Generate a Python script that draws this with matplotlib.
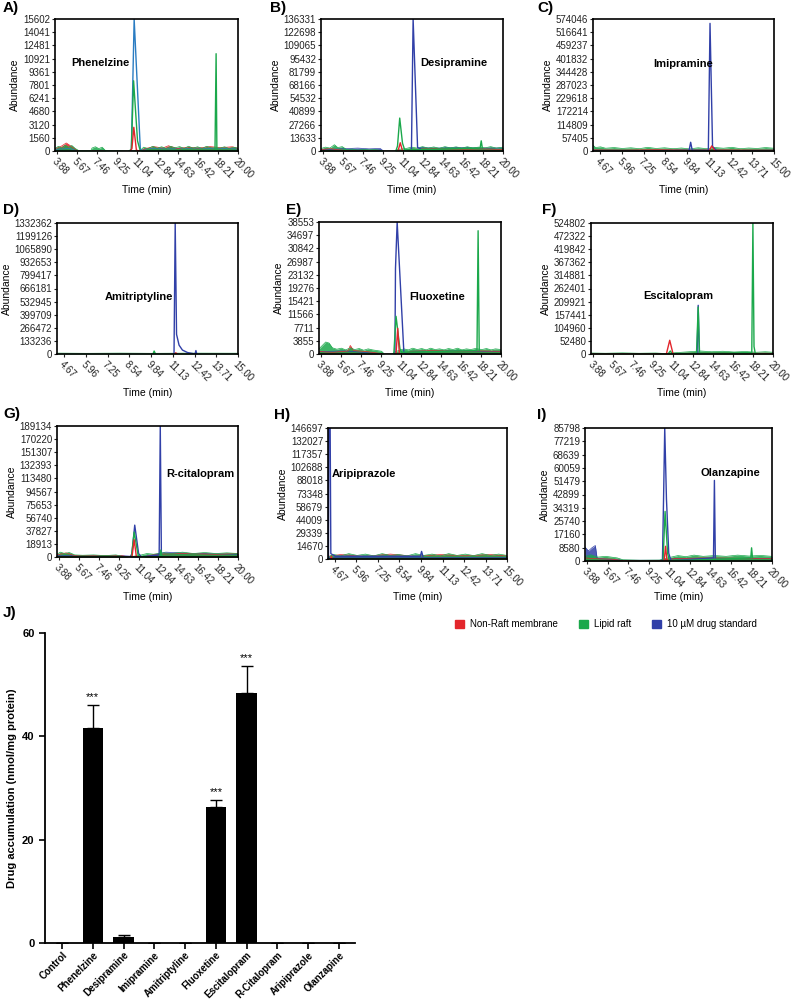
import numpy as np
import matplotlib
matplotlib.use("Agg")
import matplotlib.pyplot as plt
from matplotlib.patches import Patch

plt.rcParams['font.family'] = ['Liberation Sans', 'DejaVu Sans']

RED = '#e3262c'
GREEN = '#1ba84b'
BLUE = '#3140a8'
BLUE_A = '#2a7cc2'

# ---------------- chromatogram data (time [min], abundance) ----------------
TICKS_20 = ['3.88', '5.67', '7.46', '9.25', '11.04', '12.84', '14.63', '16.42', '18.21', '20.00']
TICKS_15 = ['4.67', '5.96', '7.25', '8.54', '9.84', '11.13', '12.42', '13.71', '15.00']

A_YT = [0, 1560, 3120, 4680, 6241, 7801, 9361, 10921, 12481, 14041, 15602]
B_YT = [0, 13633, 27266, 40899, 54532, 68166, 81799, 95432, 109065, 122698, 136331]
C_YT = [0, 57405, 114809, 172214, 229618, 287023, 344428, 401832, 459237, 516641, 574046]
D_YT = [0, 133236, 266472, 399709, 532945, 666181, 799417, 932653, 1065890, 1199126, 1332362]
E_YT = [0, 3855, 7711, 11566, 15421, 19276, 23132, 26987, 30842, 34697, 38553]
F_YT = [0, 52480, 104960, 157441, 209921, 262401, 314881, 367362, 419842, 472322, 524802]
G_YT = [0, 18913, 37827, 56740, 75653, 94567, 113480, 132393, 151307, 170220, 189134]
H_YT = [0, 14670, 29339, 44009, 58679, 73348, 88018, 102688, 117357, 132027, 146697]
I_YT = [0, 8580, 17160, 25740, 34319, 42899, 51479, 60059, 68639, 77219, 85798]

# noisy baselines (envelopes)
A_BAND_G = [(3.7, 300), (4.0, 550), (4.3, 350), (4.6, 700), (4.9, 450), (5.2, 650), (5.5, 300), (5.8, 60),
            (6.9, 60), (7.0, 350), (7.3, 500), (7.6, 280), (7.9, 450), (8.2, 40), (10.3, 0), (11.3, 80),
            (11.6, 450), (12.0, 280), (12.4, 550), (12.8, 330), (13.2, 500), (13.6, 300), (14.0, 550),
            (14.4, 380), (14.8, 520), (15.2, 300), (15.6, 560), (16.0, 340), (16.4, 500), (16.8, 300),
            (17.2, 550), (17.6, 380), (18.4, 350), (18.8, 500), (19.2, 300), (19.6, 450), (20.0, 350)]
A_BAND_R = [(3.7, 250), (4.3, 600), (4.7, 950), (5.1, 600), (5.5, 200), (5.8, 0), (11.3, 0), (11.8, 300),
            (12.5, 520), (13.3, 350), (13.8, 620), (14.6, 300), (15.5, 450), (16.5, 350), (17.5, 520),
            (18.5, 400), (19.5, 500), (20.0, 300)]
A_BAND_B = [(3.7, 200), (5.0, 300), (5.8, 0), (11.3, 0), (12.0, 300), (14.0, 250), (16.0, 350),
            (18.0, 300), (20.0, 250)]
A_BLUE = [(10.3, 0), (10.5, 0), (10.75, 15602), (11.3, 200), (11.6, 0)]
A_GREEN = [(10.3, 0), (10.5, 200), (10.7, 8300), (11.05, 1200), (11.3, 0), (17.95, 0), (18.05, 11500), (18.12, 0)]
A_RED = [(10.4, 0), (10.55, 300), (10.72, 2800), (10.95, 100), (11.2, 0)]

B_BAND_G = [(3.7, 2500), (4.1, 4000), (4.5, 3000), (4.9, 6500), (5.2, 3500), (5.6, 4500), (6.0, 1500),
            (6.5, 2000), (7.0, 1000), (7.5, 1800), (8.0, 1200), (8.5, 1500), (9.0, 800), (9.3, 0), (10.3, 0),
            (10.5, 1500), (11.3, 2500), (11.8, 4000), (12.3, 3000), (12.8, 4500), (13.3, 3000), (13.8, 4200),
            (14.3, 2800), (14.8, 4500), (15.3, 3200), (15.8, 4300), (16.3, 2900), (16.8, 4400), (17.3, 3100),
            (17.8, 4000), (18.4, 3300), (18.9, 4500), (19.4, 3000), (20.0, 4000)]
B_BAND_R = [(3.7, 1500), (4.5, 2500), (5.3, 1200), (6.0, 500), (9.3, 0), (11.3, 0), (12.0, 1800),
            (14.0, 2500), (16.0, 1500), (18.0, 2200), (20.0, 1500)]
B_BAND_B = [(3.7, 1200), (6.0, 2500), (7.0, 3000), (8.0, 2200), (9.0, 2600), (9.3, 0), (12.4, 0),
            (12.6, 3500), (14.0, 3000), (16.0, 3800), (18.0, 3000), (20.0, 3200)]
B_BLUE = [(11.7, 0), (11.8, 0), (11.95, 136331), (12.35, 3500), (12.6, 2500)]
B_GREEN = [(10.4, 0), (10.55, 5000), (10.75, 34000), (11.0, 8000), (11.2, 1000),
           (17.95, 3000), (18.05, 10500), (18.15, 3000)]
B_RED = [(10.6, 0), (10.8, 8500), (11.0, 0)]

C_BAND_G = [(4.25, 25000), (4.4, 15000), (4.7, 18000), (5.0, 12000), (5.5, 15000), (6.0, 11000), (6.5, 14000),
            (7.0, 10000), (7.5, 16000), (8.0, 11000), (8.5, 14000), (9.0, 10000), (9.5, 13000), (10.0, 9000),
            (10.5, 14000), (11.0, 10000), (11.5, 15000), (12.0, 12000), (12.5, 16000), (13.0, 10000),
            (13.5, 13000), (14.0, 11000), (14.5, 15000), (15.0, 12000)]
C_BAND_R = [(4.25, 5000), (6.0, 4000), (8.0, 6000), (10.0, 4000), (12.0, 5000), (15.0, 4000)]
C_BAND_B = [(4.25, 4000), (7.0, 3000), (10.0, 5000), (13.0, 3000), (15.0, 4000)]
C_BLUE = [(9.95, 0), (10.05, 38000), (10.15, 0), (11.1, 0), (11.2, 555000), (11.35, 20000), (11.6, 0)]
C_GREEN = [(11.15, 0), (11.3, 6000), (11.5, 0)]
C_RED = [(11.15, 0), (11.3, 22000), (11.5, 0)]

D_BAND_G = [(4.25, 9000), (6.0, 7000), (8.0, 9000), (10.0, 7000), (12.0, 9000), (15.0, 8000)]
D_BAND_R = [(4.25, 3000), (15.0, 3000)]
D_BAND_B = [(4.25, 2000), (15.0, 2000)]
D_BLUE = [(11.2, 0), (11.27, 1332362), (11.35, 200000), (11.5, 90000), (11.7, 40000), (12.0, 15000),
          (12.3, 5000), (12.45, 0), (12.5, 35000), (12.55, 0)]
D_GREEN = [(9.95, 0), (10.02, 30000), (10.1, 0)]
D_RED = [(11.25, 0), (11.3, 12000), (11.4, 0)]

E_BAND_G = [(3.7, 1500), (4.0, 2500), (4.3, 3500), (4.6, 3200), (4.9, 1800), (5.3, 1400), (5.7, 1700),
            (6.1, 1200), (6.5, 1800), (6.9, 1300), (7.3, 1600), (7.7, 1100), (8.1, 1500), (8.5, 1200),
            (8.9, 1000), (9.3, 800), (9.55, 0), (10.3, 0), (10.45, 600), (11.3, 1500), (11.7, 1200),
            (12.1, 1700), (12.5, 1300), (12.9, 1600), (13.3, 1200), (13.7, 1700), (14.1, 1300), (14.5, 1500),
            (14.9, 1200), (15.3, 1600), (15.7, 1300), (16.1, 1700), (16.5, 1200), (16.9, 1500), (17.3, 1300),
            (17.7, 1600), (18.3, 1300), (18.7, 1600), (19.1, 1200), (19.5, 1500), (20.0, 1300)]
E_BAND_R = [(3.7, 800), (4.2, 600), (5.0, 500), (6.3, 900), (6.5, 2500), (6.8, 1000), (8.0, 700),
            (9.5, 0), (11.3, 0), (12.0, 800), (14.0, 1000), (16.0, 800), (18.0, 900), (20.0, 800)]
E_BAND_B = [(3.7, 700), (6.0, 900), (9.5, 0), (11.3, 0), (12.0, 800), (16.0, 900), (20.0, 700)]
E_BLUE = [(10.35, 0), (10.5, 0), (10.55, 25000), (10.7, 38553), (11.3, 500), (11.5, 0)]
E_GREEN = [(10.4, 0), (10.6, 11000), (10.95, 1500), (11.1, 500), (17.85, 1000), (17.95, 36000), (18.05, 1000)]
E_RED = [(10.6, 0), (10.75, 7500), (10.9, 0)]

F_BAND_G = [(3.7, 4000), (5.0, 3000), (6.5, 4500), (8.0, 3000), (9.5, 4000), (10.3, 2000), (11.5, 6000),
            (12.5, 9000), (13.5, 12000), (14.5, 9000), (15.5, 11000), (16.5, 8000), (17.5, 10000),
            (18.5, 7000), (19.3, 9000), (20.0, 7000)]
F_BAND_R = [(3.7, 2000), (8.0, 2000), (12.0, 3000), (16.0, 4000), (20.0, 3000)]
F_BAND_B = [(3.7, 1500), (20.0, 1500)]
F_BLUE = [(13.2, 0), (13.3, 195000), (13.4, 0)]
F_GREEN = [(10.6, 0), (10.8, 12000), (11.0, 0), (13.15, 3000), (13.3, 188000), (13.42, 3000),
           (18.1, 5000), (18.2, 524802), (18.3, 30000), (18.4, 5000)]
F_RED = [(10.45, 0), (10.75, 55000), (11.05, 0)]

G_BAND_G = [(3.7, 4000), (4.0, 7000), (4.4, 5000), (4.8, 6500), (5.3, 3000), (6.0, 2500), (7.0, 3000),
            (8.0, 2000), (9.0, 3000), (9.6, 1000), (10.2, 0), (11.3, 3000), (11.8, 5000), (12.4, 4000),
            (13.3, 6000), (14.0, 5000), (15.0, 7000), (16.0, 5000), (17.0, 6500), (18.0, 5000),
            (19.0, 6000), (20.0, 5000)]
G_BAND_R = [(3.7, 3000), (4.5, 6000), (5.3, 2000), (9.5, 2000), (10.2, 0), (11.5, 0), (12.5, 4000),
            (15.0, 5000), (18.0, 4000), (20.0, 5000)]
G_BAND_B = [(3.7, 2000), (9.5, 2000), (11.5, 0), (13.5, 7000), (16.0, 5000), (20.0, 4000)]
G_BLUE = [(10.3, 0), (10.45, 5000), (10.7, 46000), (11.05, 5000), (11.3, 0), (12.9, 3000), (13.0, 189134), (13.1, 3000)]
G_GREEN = [(10.4, 0), (10.65, 36000), (11.0, 3000), (11.2, 0), (12.95, 0), (13.05, 10000), (13.15, 0)]
G_RED = [(10.45, 0), (10.65, 25000), (10.85, 0)]

H_BAND_G = [(4.25, 2000), (4.6, 5000), (5.0, 3500), (5.5, 6000), (6.0, 4000), (6.5, 5500), (7.0, 3500),
            (7.5, 6000), (8.0, 4000), (8.5, 5000), (9.0, 3500), (9.5, 6000), (10.0, 4000), (10.5, 5500),
            (11.0, 3500), (11.5, 6000), (12.0, 4000), (12.5, 5500), (13.0, 3800), (13.5, 6000), (14.0, 4000),
            (14.5, 5500), (15.0, 4000)]
H_BAND_R = [(4.25, 3000), (5.0, 5000), (6.5, 3000), (8.0, 5500), (9.5, 3000), (11.0, 5000), (12.5, 3500),
            (14.0, 5000), (15.0, 3500)]
H_BAND_B = [(4.25, 2000), (15.0, 2000)]
H_BLUE = [(4.28, 0), (4.3, 146697), (4.38, 146697), (4.42, 6000), (4.7, 3000), (9.8, 3000), (9.87, 8500), (9.95, 3000)]
H_GREEN = [(4.4, 0), (4.45, 4000), (4.5, 0)]
H_RED = [(4.4, 0), (4.45, 3000), (4.5, 0)]

I_BAND_G = [(3.7, 3000), (4.2, 4000), (4.8, 2500), (5.5, 3000), (6.5, 2000), (7.0, 800), (8.5, 500),
            (10.2, 600), (11.2, 2500), (11.8, 3500), (12.5, 2800), (13.2, 3800), (14.0, 3000), (15.0, 3500),
            (16.0, 3000), (17.0, 3800), (18.0, 3200), (19.0, 3600), (20.0, 3000)]
I_BAND_R = [(3.7, 2000), (4.5, 1500), (6.0, 1200), (7.0, 300), (10.2, 300), (11.5, 1500), (14.0, 2000),
            (17.0, 1800), (20.0, 1500)]
I_BAND_B = [(3.7, 9000), (4.0, 6500), (4.3, 8500), (4.6, 10000), (4.75, 2000), (5.0, 1500), (7.0, 500),
            (10.2, 500), (11.5, 1500), (20.0, 1500)]
I_BLUE = [(10.45, 0), (10.55, 41000), (10.65, 85798), (10.8, 40000), (11.0, 5000), (11.2, 0),
          (14.9, 2000), (14.98, 52000), (15.06, 2000)]
I_GREEN = [(10.5, 0), (10.68, 32000), (10.9, 5000), (11.05, 0), (18.15, 2000), (18.22, 8500), (18.3, 2000)]
I_RED = [(10.6, 0), (10.72, 9500), (10.85, 0)]

# ---------------- bar chart data ----------------
DRUGS = ['Control', 'Phenelzine', 'Desipramine', 'Imipramine', 'Amitriptyline',
         'Fluoxetine', 'Escitalopram', 'R-Citalopram', 'Aripiprazole', 'Olanzapine']
ACCUM = [0, 41.6, 1.1, 0, 0, 26.3, 48.3, 0, 0, 0]
ACCUM_ERR = [0, 4.5, 0.5, 0, 0, 1.4, 5.3, 0, 0, 0]
SIG = ['', '***', '', '', '', '***', '***', '', '', '']

W, H = 793, 1002
fig = plt.figure(figsize=(W / 100, H / 100), dpi=100)


def px_axes(l, t, r, b):
    return fig.add_axes([l / W, 1 - b / H, (r - l) / W, (b - t) / H])


def split(pts):
    pts = np.array(pts, dtype=float)
    return pts[:, 0], pts[:, 1]


def trace_segments(pts):
    # break a trace where it returns to zero so separate peaks are not joined
    segs, cur = [], []
    for p in pts:
        cur.append(p)
        if p[1] == 0 and len(cur) > 1 and cur[-2][1] > 0:
            segs.append(cur)
            cur = [p]
    if len(cur) > 1:
        segs.append(cur)
    return segs


def chrom(ax, name, yt, xt, xlim, bands, lines, txt=(0.5, 0.5)):
    for pts, c in bands:
        t, y = split(pts)
        ax.fill_between(t, 0, y, color=c, alpha=0.85, lw=0)
        ax.plot(t, y, color=c, lw=0.5)
    for pts, c in lines:
        for seg in trace_segments(pts):
            t, y = split(seg)
            ax.plot(t, y, color=c, lw=1.0)
    ax.set_xlim(*xlim)
    ax.set_ylim(0, yt[-1])
    ax.set_yticks(yt)
    ax.set_yticklabels([str(v) for v in yt])
    ax.set_xticks([float(v) for v in xt])
    ax.set_xticklabels(xt, rotation=-45, ha='left', va='top', rotation_mode='anchor')
    ax.tick_params(labelsize=7, length=2.5, width=0.8, pad=1, colors='#222222')
    for s in ax.spines.values():
        s.set_linewidth(1.2)
    ax.set_ylabel('Abundance', fontsize=7.5, labelpad=2)
    ax.text(txt[0], txt[1], name, transform=ax.transAxes, ha='center', va='center',
            fontsize=8, fontweight='bold')


panels = [
    ((55, 19, 238, 151), 'Phenelzine', 'A)', (3, 8), A_YT, TICKS_20, (3.7, 20.0),
     [(A_BAND_B, BLUE_A), (A_BAND_R, RED), (A_BAND_G, GREEN)],
     [(A_BLUE, BLUE_A), (A_GREEN, GREEN), (A_RED, RED)], (0.25, 0.67), 190),
    ((321, 19, 503, 151), 'Desipramine', 'B)', (270, 8), B_YT, TICKS_20, (3.7, 20.0),
     [(B_BAND_B, BLUE), (B_BAND_R, RED), (B_BAND_G, GREEN)],
     [(B_BLUE, BLUE), (B_GREEN, GREEN), (B_RED, RED)], (0.73, 0.67), 190),
    ((593, 19, 774, 151), 'Imipramine', 'C)', (537, 8), C_YT, TICKS_15, (4.25, 15.0),
     [(C_BAND_B, BLUE), (C_BAND_R, RED), (C_BAND_G, GREEN)],
     [(C_BLUE, BLUE), (C_GREEN, GREEN), (C_RED, RED)], (0.50, 0.66), 190),
    ((57, 223, 238, 354), 'Amitriptyline', 'D)', (3, 210), D_YT, TICKS_15, (4.25, 15.0),
     [(D_BAND_B, BLUE), (D_BAND_R, RED), (D_BAND_G, GREEN)],
     [(D_BLUE, BLUE), (D_GREEN, GREEN), (D_RED, RED)], (0.45, 0.435), 393),
    ((319, 222, 501, 354), 'Fluoxetine', 'E)', (286, 210), E_YT, TICKS_20, (3.7, 20.0),
     [(E_BAND_B, BLUE), (E_BAND_R, RED), (E_BAND_G, GREEN)],
     [(E_BLUE, BLUE), (E_GREEN, GREEN), (E_RED, RED)], (0.65, 0.435), 393),
    ((591, 223, 773, 354), 'Escitalopram', 'F)', (542, 210), F_YT, TICKS_20, (3.7, 20.0),
     [(F_BAND_B, BLUE), (F_BAND_R, RED), (F_BAND_G, GREEN)],
     [(F_BLUE, BLUE), (F_GREEN, GREEN), (F_RED, RED)], (0.48, 0.44), 393),
    ((57, 426, 238, 557), 'R-citalopram', 'G)', (3, 414), G_YT, TICKS_20, (3.7, 20.0),
     [(G_BAND_B, BLUE), (G_BAND_R, RED), (G_BAND_G, GREEN)],
     [(G_BLUE, BLUE), (G_GREEN, GREEN), (G_RED, RED)], (0.79, 0.63), 597),
    ((328, 428, 507, 559), 'Aripiprazole', 'H)', (274, 415), H_YT, TICKS_15, (4.25, 15.0),
     [(H_BAND_B, BLUE), (H_BAND_R, RED), (H_BAND_G, GREEN)],
     [(H_BLUE, BLUE), (H_GREEN, GREEN), (H_RED, RED)], (0.20, 0.65), 597),
    ((585, 428, 772, 561), 'Olanzapine', 'I)', (537, 415), I_YT, TICKS_20, (3.7, 20.0),
     [(I_BAND_B, BLUE), (I_BAND_R, RED), (I_BAND_G, GREEN)],
     [(I_BLUE, BLUE), (I_GREEN, GREEN), (I_RED, RED)], (0.78, 0.66), 597),
]

for box, name, label, lpos, yt, xt, xlim, bands, lines, txt, tl_y in panels:
    ax = px_axes(*box)
    chrom(ax, name, yt, xt, xlim, bands, lines, txt=txt)
    fig.text((box[0] + box[2]) / 2 / W, 1 - tl_y / H, 'Time (min)', ha='center', va='center', fontsize=7.5)
    fig.text(lpos[0] / W, 1 - lpos[1] / H, label, fontsize=11, fontweight='bold', ha='left', va='center')

# ---------------- J) bar chart ----------------
axj = px_axes(45, 633, 355, 943)
x = np.arange(len(DRUGS))
axj.bar(x, ACCUM, width=0.66, color='black', zorder=2)
axj.errorbar(x, ACCUM, yerr=[np.zeros(len(ACCUM)), ACCUM_ERR], fmt='none', ecolor='black',
             elinewidth=1.0, capsize=4, capthick=1.0, zorder=1)
for xi, v, e, s in zip(x, ACCUM, ACCUM_ERR, SIG):
    if s:
        axj.text(xi, v + e + 0.6, s, ha='center', va='bottom', fontsize=8)
axj.set_xlim(-0.55, 9.52)
axj.set_ylim(0, 60)
axj.set_yticks([0, 20, 40, 60])
axj.set_xticks(x)
axj.set_xticklabels(DRUGS, rotation=45, ha='right', va='top', rotation_mode='anchor',
                    fontweight='bold', fontsize=7)
for lab in axj.get_yticklabels():
    lab.set_fontweight('bold')
axj.tick_params(axis='y', labelsize=8, length=4, width=1.2)
axj.tick_params(axis='x', length=4, width=1.2, pad=1)
axj.spines['top'].set_visible(False)
axj.spines['right'].set_visible(False)
axj.spines['left'].set_linewidth(1.3)
axj.spines['bottom'].set_linewidth(1.3)
axj.set_ylabel('Drug accumulation (nmol/mg protein)', fontsize=8, fontweight='bold')
fig.text(3 / W, 1 - 613 / H, 'J)', fontsize=11, fontweight='bold', ha='left', va='center')

handles = [Patch(color=RED, label='Non-Raft membrane'),
           Patch(color=GREEN, label='Lipid raft'),
           Patch(color=BLUE, label='10 µM drug standard')]
fig.legend(handles=handles, loc='center', bbox_to_anchor=(606 / W, 1 - 624 / H), ncol=3,
           frameon=False, fontsize=7, handlelength=0.9, handleheight=0.9, columnspacing=2.2,
           handletextpad=0.6)

fig.savefig('out.png', dpi=100)
